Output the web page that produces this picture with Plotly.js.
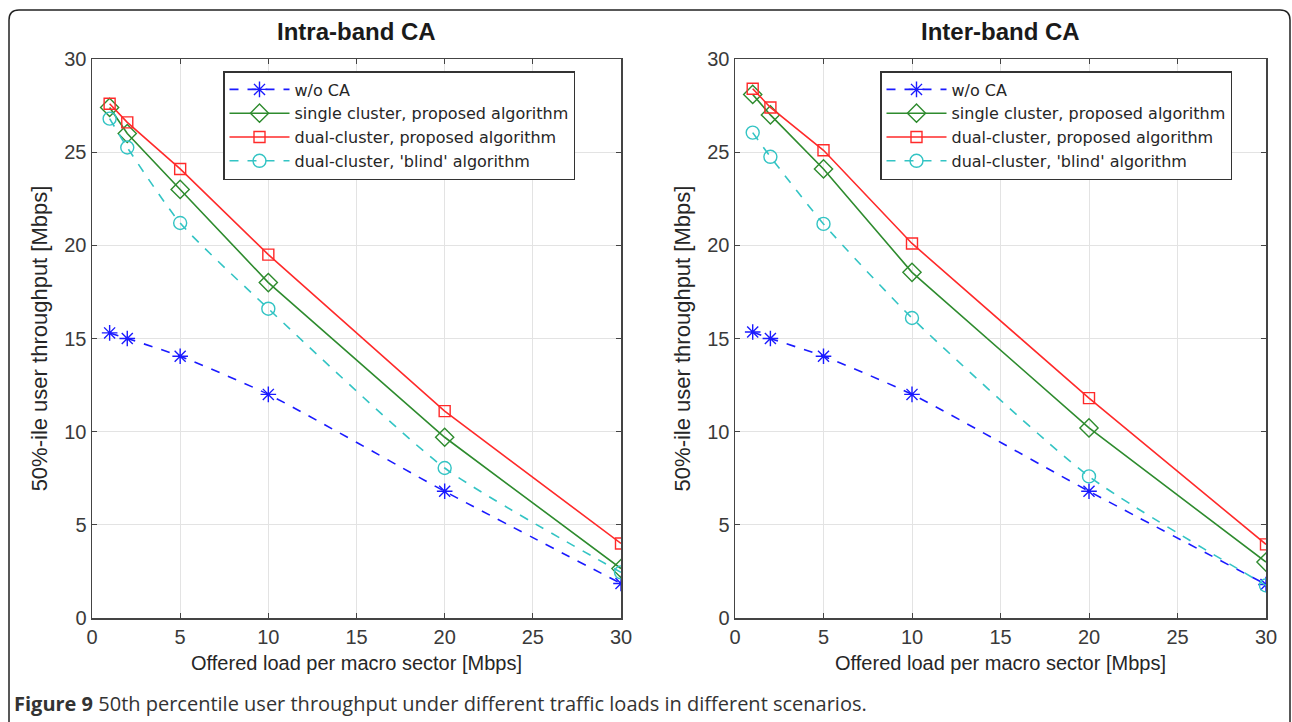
<!DOCTYPE html>
<html>
<head>
<meta charset="utf-8">
<script src="https://cdn.plot.ly/plotly-3.0.1.min.js"></script>
<style>
  html, body { margin: 0; padding: 0; background: #ffffff; }
  #chart { width: 1292px; height: 722px; }
</style>
</head>
<body>
<div id="chart"></div>
<script>
// ---- data ----
const loads = [1, 2, 5, 10, 20, 30];
const seriesNames = [
  "w/o CA",
  "single cluster, proposed algorithm",
  "dual-cluster, proposed algorithm",
  "dual-cluster, 'blind' algorithm"
];
const intraWoCA      = [15.3, 15.0, 14.05, 12.0, 6.8, 1.85];
const intraSingle    = [27.4, 26.0, 23.0, 18.0, 9.7, 2.65];
const intraDualProp  = [27.6, 26.6, 24.1, 19.5, 11.1, 4.0];
const intraDualBlind = [26.8, 25.25, 21.2, 16.6, 8.05, 2.45];
const interWoCA      = [15.35, 15.0, 14.05, 12.0, 6.8, 1.8];
const interSingle    = [28.1, 27.0, 24.1, 18.55, 10.2, 3.0];
const interDualProp  = [28.4, 27.4, 25.1, 20.1, 11.8, 3.95];
const interDualBlind = [26.05, 24.75, 21.15, 16.1, 7.6, 1.75];
const panelTitles = ["Intra-band CA", "Inter-band CA"];
const xTitle = "Offered load per macro sector [Mbps]";
const yTitle = "50%-ile user throughput [Mbps]";
const tickVals = [0, 5, 10, 15, 20, 25, 30];
const caption = "<b>Figure 9</b> 50th percentile user throughput under different traffic loads in different scenarios.";

// ---- styles ----
const W = 1292, H = 722;
const px = v => v / W;
const py = v => 1 - v / H;
const FONT = "Liberation Sans, Arial, sans-serif";
const LEGEND_FONT = "DejaVu Sans, Liberation Sans, sans-serif";
const styles = [
  {color: "#1a1aff", dash: "dash", shape: "spline", symbol: "asterisk-open", size: 13},
  {color: "#2e8b2e", dash: "solid", shape: "linear", symbol: "diamond-open", size: 14},
  {color: "#ff2a2a", dash: "solid", shape: "linear", symbol: "square-open", size: 11},
  {color: "#33c4c4", dash: "dash", shape: "spline", symbol: "circle-open", size: 13}
];

function makeTraces(sets, xa, ya, legendId) {
  return sets.map((ys, i) => ({
    x: loads, y: ys, type: "scatter", mode: "lines+markers",
    name: seriesNames[i], xaxis: xa, yaxis: ya, legend: legendId,
    line: {color: styles[i].color, width: 1.6, dash: styles[i].dash, shape: styles[i].shape, smoothing: 0.6},
    marker: {symbol: styles[i].symbol, size: styles[i].size, color: styles[i].color, line: {color: styles[i].color, width: 1.4}}
  }));
}

const traces = [
  ...makeTraces([intraWoCA, intraSingle, intraDualProp, intraDualBlind], "x", "y", "legend"),
  ...makeTraces([interWoCA, interSingle, interDualProp, interDualBlind], "x2", "y2", "legend2")
];

const axisCommon = {
  range: [0, 30], tickvals: tickVals, ticks: "inside", ticklen: 5, tickcolor: "#444",
  showline: true, linecolor: "#444", linewidth: 1.5, mirror: "ticks",
  showgrid: true, gridcolor: "#e3e3e3", gridwidth: 1, zeroline: false,
  tickfont: {family: FONT, size: 20, color: "#3a3a3a"}
};
const xAxis = (dom, anchor) => Object.assign({}, axisCommon, {
  domain: dom, anchor: anchor,
  title: {text: xTitle, font: {family: FONT, size: 20, color: "#262626"}, standoff: 9}
});
const yAxis = (anchor) => Object.assign({}, axisCommon, {
  domain: [py(618), py(59)], anchor: anchor,
  title: {text: yTitle, font: {family: FONT, size: 22, color: "#262626"}, standoff: 10}
});

const legendCommon = {
  bgcolor: "#ffffff", bordercolor: "#333", borderwidth: 1.5,
  font: {family: LEGEND_FONT, size: 16, color: "#262626"},
  itemwidth: 60, xanchor: "left", yanchor: "top", tracegroupgap: 0
};

const layout = {
  width: W, height: H,
  margin: {l: 0, r: 0, t: 0, b: 0, autoexpand: false},
  paper_bgcolor: "#ffffff", plot_bgcolor: "#ffffff",
  showlegend: true,
  xaxis: xAxis([px(92), px(621)], "y"),
  yaxis: yAxis("x"),
  xaxis2: xAxis([px(735), px(1266)], "y2"),
  yaxis2: yAxis("x2"),
  legend: Object.assign({}, legendCommon, {x: px(223), y: py(71)}),
  legend2: Object.assign({}, legendCommon, {x: px(880), y: py(71)}),
  annotations: [
    {text: "<b>" + panelTitles[0] + "</b>", xref: "paper", yref: "paper", x: px(356), y: py(31),
     xanchor: "center", yanchor: "middle",
     showarrow: false, font: {family: FONT, size: 24, color: "#1a1a1a"}},
    {text: "<b>" + panelTitles[1] + "</b>", xref: "paper", yref: "paper", x: px(1001), y: py(31),
     xanchor: "center", yanchor: "middle",
     showarrow: false, font: {family: FONT, size: 24, color: "#1a1a1a"}},
    {text: caption, xref: "paper", yref: "paper", x: px(12), y: py(703), xanchor: "left", yanchor: "middle",
     showarrow: false, font: {family: "Open Sans, Noto Sans, sans-serif", size: 20, color: "#333"}}
  ],
  shapes: [
    {type: "path", xref: "paper", yref: "paper",
     path: "M " + px(9) + "," + py(722) + " L " + px(9) + "," + py(20) +
           " Q " + px(9) + "," + py(10) + " " + px(19) + "," + py(10) +
           " L " + px(1280) + "," + py(10) +
           " Q " + px(1290) + "," + py(10) + " " + px(1290) + "," + py(20) +
           " L " + px(1290) + "," + py(722),
     line: {color: "#222", width: 1.5}, fillcolor: "rgba(0,0,0,0)"}
  ]
};

Plotly.newPlot("chart", traces, layout, {staticPlot: true, displayModeBar: false});
</script>
</body>
</html>
